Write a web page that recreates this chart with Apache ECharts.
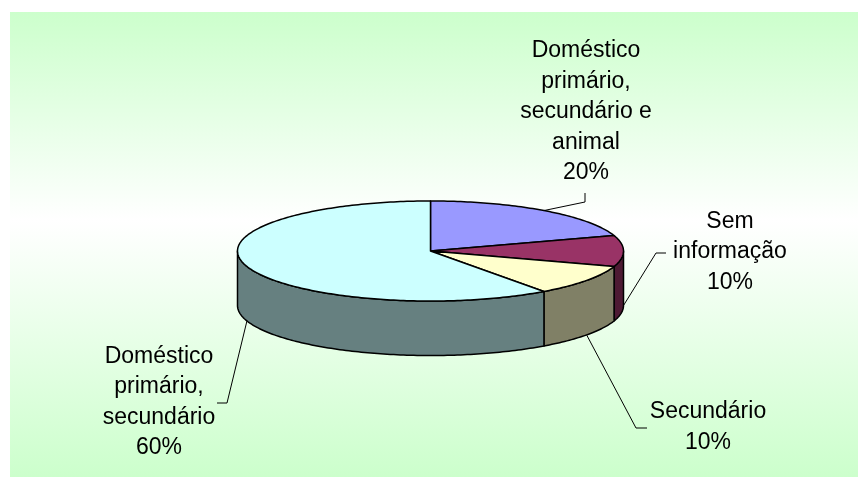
<!DOCTYPE html>
<html><head><meta charset="utf-8">
<script src="https://cdn.jsdelivr.net/npm/echarts@6/dist/echarts.min.js"></script>
<style>html,body{margin:0;padding:0;background:#fff}#c{width:858px;height:477px}</style>
</head><body><div id="c"></div>
<script>
// ---- data ----
var categories = ['Doméstico\nprimário,\nsecundário e\nanimal', 'Sem\ninformação', 'Secundário', 'Doméstico\nprimário,\nsecundário'];
var values = [20, 10, 10, 60];

// ---- styles / layout ----
var topColors = ['#9999FF', '#993366', '#FFFFCC', '#CCFFFF'];
var sideColors = ['#4D4D80', '#4D1A33', '#808066', '#668080'];
var labelPos = [[586, 112], [730, 252], [708, 427], [159, 402]];
var leaderElbows = [[[585, 202], [585, 193]], [[656, 253], [666, 253]], [[636, 428], [647, 428]], [[227, 403], [217, 403]]];
var PIE = {cx: 430.5, cy: 251, rx: 193, ry: 50, depth: 54.5};

var total = values.reduce(function (a, b) { return a + b; }, 0);
function pt(theta, dy) {
  var r = theta * Math.PI / 180;
  return [PIE.cx + PIE.rx * Math.sin(r), PIE.cy - PIE.ry * Math.cos(r) + (dy || 0)];
}
function arc(a0, a1, dy) {
  var pts = [], n = Math.max(2, Math.ceil(Math.abs(a1 - a0)));
  for (var i = 0; i <= n; i++) pts.push(pt(a0 + (a1 - a0) * i / n, dy));
  return pts;
}

var chart = echarts.init(document.getElementById('c'), null, {renderer: 'canvas'});
chart.setOption({
  backgroundColor: '#ffffff',
  animation: false,
  graphic: [{
    type: 'rect', z: 0,
    shape: {x: 10, y: 12, width: 848, height: 465},
    style: {fill: {type: 'linear', x: 0, y: 0, x2: 0, y2: 1, colorStops: [
      {offset: 0, color: '#CCFFCC'}, {offset: 0.45, color: '#FFFFFF'}, {offset: 1, color: '#CCFFCC'}]}}
  }],
  series: [{
    type: 'custom',
    coordinateSystem: 'none',
    z: 5,
    data: values.map(function (v, i) { return {name: categories[i], value: v}; }),
    renderItem: function (params, api) {
      var i = params.dataIndex;
      var before = 0;
      for (var k = 0; k < i; k++) before += values[k];
      var v = api.value(0);
      var a0 = before / total * 360, a1 = (before + v) / total * 360;
      var children = [];
      // front side wall (visible for angles 90..270)
      var s0 = Math.max(a0, 90), s1 = Math.min(a1, 270);
      if (s1 > s0) {
        var topArc = arc(s0, s1, 0);
        var botArc = arc(s1, s0, PIE.depth);
        children.push({
          type: 'polygon', z2: 1,
          shape: {points: topArc.concat(botArc)},
          style: {fill: sideColors[i], stroke: '#000', lineWidth: 1.5, lineJoin: 'round'}
        });
      }
      // top face
      children.push({
        type: 'polygon', z2: 2,
        shape: {points: [[PIE.cx, PIE.cy]].concat(arc(a0, a1, 0))},
        style: {fill: topColors[i], stroke: '#000', lineWidth: 1.5, lineJoin: 'round'}
      });
      // leader line
      var mid = (a0 + a1) / 2;
      var front = Math.cos(mid * Math.PI / 180) <= 1e-6;
      var start = pt(mid, front ? PIE.depth : 0);
      children.push({
        type: 'polyline', z2: 3,
        shape: {points: [start].concat(leaderElbows[i])},
        style: {stroke: '#000', lineWidth: 1, fill: null}
      });
      // label
      var pct = Math.round(v / total * 100) + '%';
      children.push({
        type: 'text', z2: 4,
        x: labelPos[i][0], y: labelPos[i][1],
        style: {
          text: categories[i] + '\n' + pct,
          fill: '#000',
          font: '23px "Liberation Sans", Arial, sans-serif',
          align: 'center', verticalAlign: 'middle', lineHeight: 30.5
        }
      });
      return {type: 'group', children: children};
    }
  }]
});
</script>
</body></html>
